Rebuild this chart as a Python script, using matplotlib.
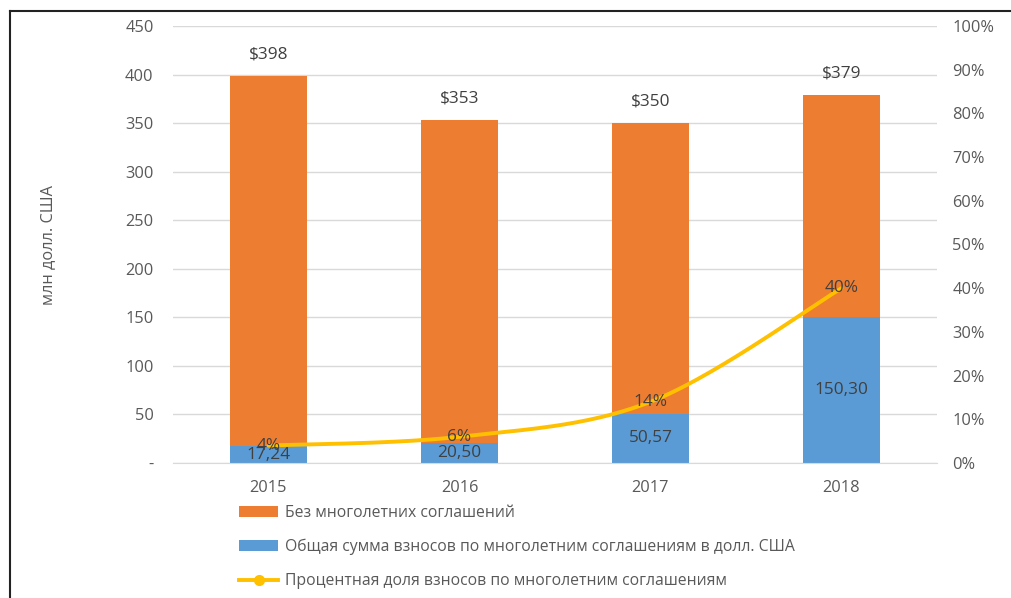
import numpy as np
import matplotlib
matplotlib.use("Agg")
import matplotlib.pyplot as plt
from matplotlib.patches import Patch
from matplotlib.lines import Line2D

plt.rcParams['font.family'] = ['Open Sans', 'DejaVu Sans']

years = ['2015', '2016', '2017', '2018']
multi_year = [17.24, 20.50, 50.57, 150.30]
totals = [398, 353, 350, 379]
share_pct = [4, 6, 14, 40]
multi_labels = ['17,24', '20,50', '50,57', '150,30']

without_multi = [t - m for t, m in zip(totals, multi_year)]

C_ORANGE = '#ED7D31'
C_BLUE = '#5B9BD5'
C_LINE = '#FFC000'
C_TICK = '#595959'
C_LAB = '#404040'
C_GRID = '#D9D9D9'

FS_TICK = 11.8
FS_LAB = 12.4
FS_LEG = 11.3

W, H = 1011, 598
fig = plt.figure(figsize=(W / 100, H / 100), dpi=100)
ax = fig.add_axes([173 / W, 1 - 463 / H, (937 - 173) / W, (463 - 26) / H])
ax2 = ax.twinx()

x = np.arange(len(years))
bw = 0.4
ax.bar(x, multi_year, bw, color=C_BLUE, zorder=2)
ax.bar(x, without_multi, bw, bottom=multi_year, color=C_ORANGE, zorder=2)

ax.set_xlim(-0.5, len(years) - 0.5)
ax.set_ylim(0, 450)
ax.set_yticks(np.arange(0, 451, 50))
ax.set_yticklabels(['-'] + [str(v) for v in range(50, 451, 50)])
ax.set_xticks(x)
ax.set_xticklabels(years)
ax.yaxis.grid(True, color=C_GRID, linewidth=1, zorder=0)
ax.set_axisbelow(True)
for s in ax.spines.values():
    s.set_visible(False)
for s in ax2.spines.values():
    s.set_visible(False)
ax.spines['bottom'].set_visible(True)
ax.spines['bottom'].set_color(C_GRID)
ax.tick_params(axis='both', length=0, labelsize=FS_TICK, colors=C_TICK)
ax.tick_params(axis='y', pad=14)
ax.tick_params(axis='x', pad=12)

ax2.set_ylim(0, 100)
ax2.set_yticks(np.arange(0, 101, 10))
ax2.set_yticklabels([f'{v}%' for v in range(0, 101, 10)])
ax2.tick_params(axis='y', length=0, labelsize=FS_TICK, colors=C_TICK, pad=11)

# smoothed line (Catmull-Rom through the data points)
px = x.astype(float)
py = np.array(share_pct, dtype=float)
sx, sy = [], []
n = len(px)
for i in range(n - 1):
    p0 = max(i - 1, 0); p3 = min(i + 2, n - 1)
    c1x = px[i] + (px[i + 1] - px[p0]) / 6
    c1y = py[i] + (py[i + 1] - py[p0]) / 6
    c2x = px[i + 1] - (px[p3] - px[i]) / 6
    c2y = py[i + 1] - (py[p3] - py[i]) / 6
    t = np.linspace(0, 1, 50)
    bx = (1 - t) ** 3 * px[i] + 3 * (1 - t) ** 2 * t * c1x + 3 * (1 - t) * t ** 2 * c2x + t ** 3 * px[i + 1]
    by = (1 - t) ** 3 * py[i] + 3 * (1 - t) ** 2 * t * c1y + 3 * (1 - t) * t ** 2 * c2y + t ** 3 * py[i + 1]
    sx.extend(bx); sy.extend(by)
ax2.plot(sx, sy, color=C_LINE, linewidth=2.8, zorder=3, solid_capstyle='round')

# labels
for xi, tot in zip(x, totals):
    ax.annotate(f'${tot}', (xi, tot), xytext=(0, 10), textcoords='offset points',
                ha='center', va='bottom', fontsize=FS_LAB, color=C_LAB)
for xi, m, lab in zip(x, multi_year, multi_labels):
    ax2.text(xi, (m / 2) / 450 * 100, lab, ha='center', va='center',
             fontsize=FS_LAB, color=C_LAB, zorder=5)
for xi, p in zip(x, share_pct):
    ax2.text(xi, p, f'{p}%', ha='center', va='center', fontsize=FS_LAB,
             color=C_LAB, zorder=6)

fig.text(48 / W, 1 - 245 / H, 'млн долл. США', rotation=90, ha='center',
         va='center', fontsize=FS_TICK, color=C_TICK)

handles = [Patch(facecolor=C_ORANGE, edgecolor='none'),
           Patch(facecolor=C_BLUE, edgecolor='none'),
           Line2D([], [], color=C_LINE, linewidth=2.8, marker='o', markersize=7)]
labels = ['Без многолетних соглашений',
          'Общая сумма взносов по многолетним соглашениям в долл. США',
          'Процентная доля взносов по многолетним соглашениям']
leg = fig.legend(handles, labels, loc='upper left', bbox_to_anchor=(239 / W, 1 - 505 / H),
                 frameon=False, fontsize=FS_LEG, handlelength=2.5, handletextpad=0.45,
                 labelspacing=1.15, borderpad=0, borderaxespad=0)
for t in leg.get_texts():
    t.set_color(C_TICK)

# outer frame (top and left edges)
fig.add_artist(Line2D([10 / W, 1], [1 - 11 / H, 1 - 11 / H], color='#222222', linewidth=1.5,
                      transform=fig.transFigure))
fig.add_artist(Line2D([10 / W, 10 / W], [0, 1 - 11 / H], color='#222222', linewidth=1.5,
                      transform=fig.transFigure))

fig.savefig('out.png', dpi=100)
